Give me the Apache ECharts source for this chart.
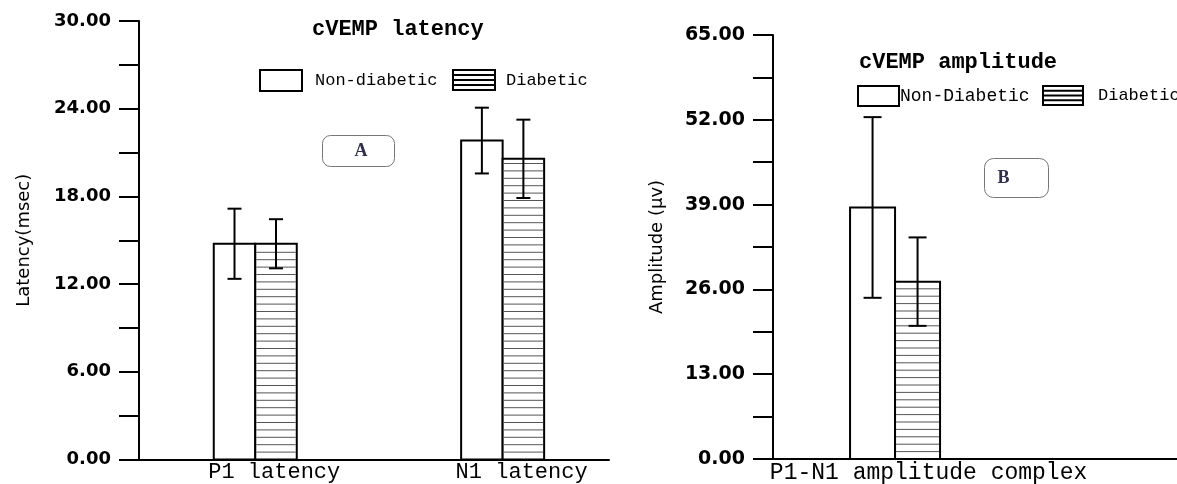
<!DOCTYPE html>
<html><head><meta charset="utf-8">
<script src="https://cdn.jsdelivr.net/npm/echarts@6/dist/echarts.min.js"></script>
<style>html,body{margin:0;padding:0;background:#fff}#c{width:1177px;height:484px}</style>
</head><body><div id="c"></div>
<script>
// ---- data ----
const latencyCategories = ['P1 latency', 'N1 latency'];
const latencyNonDiabetic = [14.76, 21.82];
const latencyNonDiabeticSD = [2.40, 2.25];
const latencyDiabetic = [14.76, 20.57];
const latencyDiabeticSD = [1.68, 2.68];
const latencyTicks = [0, 6, 12, 18, 24, 30];

const amplitudeCategories = ['P1-N1 amplitude complex'];
const amplitudeNonDiabetic = [38.56];
const amplitudeNonDiabeticSD = [13.85];
const amplitudeDiabetic = [27.19];
const amplitudeDiabeticSD = [6.78];
const amplitudeTicks = [0, 13, 26, 39, 52, 65];

// ---- helpers ----
const MONO = '"Liberation Mono", "DejaVu Sans Mono", monospace';
const SANS = '"DejaVu Sans", sans-serif';

function rows(means, sds) { return means.map((m, i) => [i, m, sds[i]]); }

function makeRender(side, barW, hatched, capW) {
  return function (params, api) {
    const x = api.value(0), v = api.value(1), sd = api.value(2);
    const base = api.coord([x, 0]);
    const top = api.coord([x, v]);
    const x0 = side < 0 ? base[0] - barW : base[0];
    const children = [{
      type: 'rect',
      shape: { x: x0, y: top[1], width: barW, height: base[1] - top[1] },
      style: { fill: '#fff', stroke: '#000', lineWidth: 2 }
    }];
    if (hatched) {
      const step = 7.4;
      for (let y = base[1] - step; y > top[1] + 2; y -= step) {
        children.push({ type: 'line', shape: { x1: x0 + 1, y1: y, x2: x0 + barW - 1, y2: y },
          style: { stroke: '#555', lineWidth: 1 } });
      }
    }
    const hi = api.coord([x, v + sd]), lo = api.coord([x, v - sd]);
    const cx = x0 + barW / 2;
    const es = { stroke: '#000', lineWidth: 2 };
    children.push({ type: 'line', shape: { x1: cx, y1: hi[1], x2: cx, y2: lo[1] }, style: es });
    children.push({ type: 'line', shape: { x1: cx - capW / 2, y1: hi[1], x2: cx + capW / 2, y2: hi[1] }, style: es });
    children.push({ type: 'line', shape: { x1: cx - capW / 2, y1: lo[1], x2: cx + capW / 2, y2: lo[1] }, style: es });
    return { type: 'group', children };
  };
}

const hatchIcon = 'path://M0 0H42V20H0Z M0 5H42 M0 10H42 M0 15H42';

function yAxisCfg(gridIndex, ticks, name, fontSize, nameGap) {
  return {
    type: 'value', gridIndex,
    min: ticks[0], max: ticks[ticks.length - 1], interval: ticks[1] - ticks[0],
    name, nameLocation: 'middle', nameRotate: 90, nameGap,
    nameTextStyle: { fontFamily: SANS, fontSize: 18, color: '#000' },
    axisLine: { show: true, onZero: false, lineStyle: { color: '#000', width: 2 } },
    axisTick: { show: true, length: 20, lineStyle: { color: '#000', width: 2 } },
    minorTick: { show: true, splitNumber: 2, length: 20, lineStyle: { color: '#000', width: 2 } },
    splitLine: { show: false },
    axisLabel: { margin: 28, fontFamily: SANS, fontWeight: 'bold', fontSize, color: '#000',
      formatter: v => v.toFixed(2) }
  };
}

const chart = echarts.init(document.getElementById('c'), null, { renderer: 'canvas' });
chart.setOption({
  animation: false,
  backgroundColor: '#fff',
  title: [
    { text: 'cVEMP latency', left: 307, top: 13,
      textStyle: { fontFamily: MONO, fontSize: 22, fontWeight: 'bold', color: '#000' } },
    { text: 'cVEMP amplitude', left: 854, top: 46,
      textStyle: { fontFamily: MONO, fontSize: 22, fontWeight: 'bold', color: '#000' } }
  ],
  legend: [
    { left: 254, top: 64, itemWidth: 42, itemHeight: 21, selectedMode: false,
      data: [{ name: 'Non-diabetic', icon: 'rect', itemStyle: { color: '#fff', borderColor: '#000', borderWidth: 2 } }],
      textStyle: { fontFamily: MONO, fontSize: 17, color: '#000', padding: [0, 0, 0, 8] } },
    { left: 447, top: 64, itemWidth: 42, itemHeight: 21, selectedMode: false,
      data: [{ name: 'Diabetic', icon: hatchIcon, itemStyle: { color: 'rgba(0,0,0,0)', borderColor: '#000', borderWidth: 2 } }],
      textStyle: { fontFamily: MONO, fontSize: 17, color: '#000', padding: [0, 0, 0, 6] } },
    { left: 852, top: 80, itemWidth: 41, itemHeight: 20, selectedMode: false,
      data: [{ name: 'Non-Diabetic', icon: 'rect', itemStyle: { color: '#fff', borderColor: '#000', borderWidth: 2 } }],
      textStyle: { fontFamily: MONO, fontSize: 18, color: '#000', padding: [0, 0, 0, -4] } },
    { left: 1037, top: 80, itemWidth: 40, itemHeight: 20, selectedMode: false,
      data: [{ name: 'Diabetic', icon: hatchIcon, itemStyle: { color: 'rgba(0,0,0,0)', borderColor: '#000', borderWidth: 2 } }],
      textStyle: { fontFamily: MONO, fontSize: 17, color: '#000', padding: [0, 0, 0, 10] } }
  ],
  grid: [
    { left: 139, top: 21, width: 470, height: 438.5 },
    { left: 773, top: 35, width: 404, height: 426.5 }
  ],
  xAxis: [
    { type: 'value', gridIndex: 0, min: -0.47, max: 1.43,
      axisLine: { show: true, onZero: false, lineStyle: { color: '#000', width: 2 } },
      axisTick: { show: false }, splitLine: { show: false },
      axisLabel: { customValues: [0, 1], margin: 2, fontFamily: MONO, fontSize: 22, color: '#000',
        padding: [0, 0, 0, 38], formatter: v => latencyCategories[Math.round(v)] || '' } },
    { type: 'value', gridIndex: 1, min: -1, max: 2.31,
      axisLine: { show: true, onZero: false, lineStyle: { color: '#000', width: 2 } },
      axisTick: { show: false }, splitLine: { show: false },
      axisLabel: { customValues: [0], margin: 2, fontFamily: MONO, fontSize: 23, color: '#000',
        padding: [0, 0, 0, 67], formatter: v => amplitudeCategories[Math.round(v)] || '' } }
  ],
  yAxis: [
    yAxisCfg(0, latencyTicks, 'Latency(msec)', 18, 106),
    yAxisCfg(1, amplitudeTicks, 'Amplitude (μv)', 19, 107)
  ],
  series: [
    { type: 'custom', name: 'Non-diabetic', xAxisIndex: 0, yAxisIndex: 0,
      itemStyle: { color: '#fff', borderColor: '#000' },
      renderItem: makeRender(-1, 41.5, false, 14), data: rows(latencyNonDiabetic, latencyNonDiabeticSD) },
    { type: 'custom', name: 'Diabetic', xAxisIndex: 0, yAxisIndex: 0,
      itemStyle: { color: '#fff', borderColor: '#000' },
      renderItem: makeRender(1, 41.5, true, 14), data: rows(latencyDiabetic, latencyDiabeticSD) },
    { type: 'custom', name: 'Non-Diabetic', xAxisIndex: 1, yAxisIndex: 1,
      itemStyle: { color: '#fff', borderColor: '#000' },
      renderItem: makeRender(-1, 45, false, 18), data: rows(amplitudeNonDiabetic, amplitudeNonDiabeticSD) },
    { type: 'custom', name: 'Diabetic', xAxisIndex: 1, yAxisIndex: 1,
      itemStyle: { color: '#fff', borderColor: '#000' },
      renderItem: makeRender(1, 45, true, 18), data: rows(amplitudeDiabetic, amplitudeDiabeticSD) }
  ],
  graphic: [
    { type: 'group', left: 322, top: 135, children: [
      { type: 'rect', shape: { x: 0, y: 0, width: 72, height: 31, r: 8 }, style: { fill: '#fff', stroke: '#777', lineWidth: 1 } },
      { type: 'text', x: 32, y: 16, style: { text: 'A', fontFamily: '"Liberation Serif", serif', fontSize: 18, fontWeight: 'bold', fill: '#2f2f4f', verticalAlign: 'middle' } }
    ] },
    { type: 'group', left: 984, top: 158, children: [
      { type: 'rect', shape: { x: 0, y: 0, width: 64, height: 39, r: 9 }, style: { fill: '#fff', stroke: '#777', lineWidth: 1 } },
      { type: 'text', x: 13, y: 20, style: { text: 'B', fontFamily: '"Liberation Serif", serif', fontSize: 18, fontWeight: 'bold', fill: '#2f2f4f', verticalAlign: 'middle' } }
    ] }
  ]
});
</script>
</body></html>
